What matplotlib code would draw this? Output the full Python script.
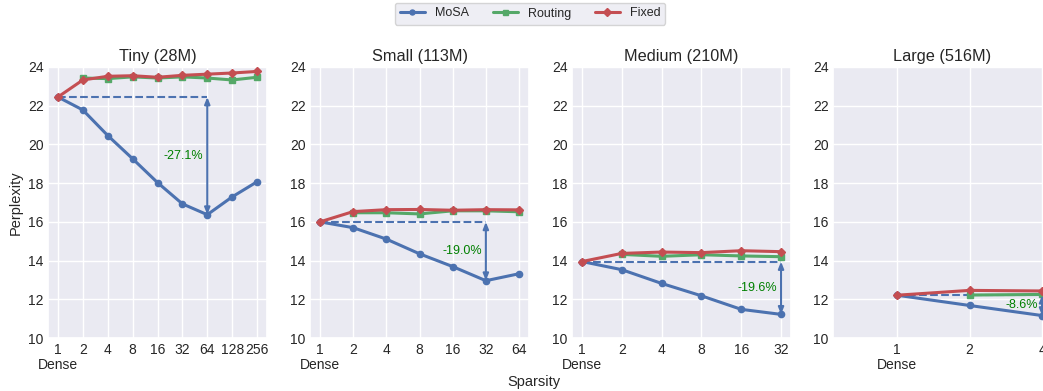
import matplotlib
matplotlib.use("Agg")
import matplotlib.pyplot as plt
import seaborn as sns
import numpy as np

sns.set_theme(style="darkgrid")
plt.rcParams['font.family'] = ['Liberation Sans', 'DejaVu Sans']

titles = ["Tiny (28M)", "Small (113M)", "Medium (210M)", "Large (516M)"]
sparsity_tiny = [1, 2, 4, 8, 16, 32, 64, 128, 256]
sparsity_small = [1, 2, 4, 8, 16, 32, 64]
sparsity_medium = [1, 2, 4, 8, 16, 32]
sparsity_large = [1, 2, 4]

mosa_tiny = [22.45, 21.78, 20.46, 19.26, 18.03, 16.93, 16.37, 17.29, 18.07]
routing_tiny = [23.43, 23.40, 23.49, 23.43, 23.49, 23.43, 23.33, 23.47]
fixed_tiny = [22.45, 23.33, 23.52, 23.55, 23.47, 23.57, 23.63, 23.69, 23.77]

mosa_small = [16.0, 15.70, 15.11, 14.35, 13.69, 12.96, 13.32]
routing_small = [16.47, 16.47, 16.41, 16.57, 16.57, 16.52]
fixed_small = [16.0, 16.53, 16.63, 16.64, 16.60, 16.63, 16.62]

mosa_medium = [13.95, 13.53, 12.82, 12.18, 11.48, 11.22]
routing_medium = [14.32, 14.22, 14.30, 14.24, 14.20]
fixed_medium = [13.95, 14.37, 14.44, 14.41, 14.51, 14.46]

mosa_large = [12.21, 11.68, 11.16]
routing_large = [12.22, 12.25]
fixed_large = [12.21, 12.46, 12.43]

reductions = ["-27.1%", "-19.0%", "-19.6%", "-8.6%"]
best_idx = [6, 5, 5, 2]

panels = [
    (sparsity_tiny, mosa_tiny, routing_tiny, fixed_tiny),
    (sparsity_small, mosa_small, routing_small, fixed_small),
    (sparsity_medium, mosa_medium, routing_medium, fixed_medium),
    (sparsity_large, mosa_large, routing_large, fixed_large),
]

blue, green, red = "#4C72B0", "#55A868", "#C44E52"

fig = plt.figure(figsize=(10.43, 3.91), dpi=100)
W, H = 1043.0, 391.0
lefts = [48, 310, 572, 833]
ax_w = 219
top_px, bot_px = 67, 338
axes = []
for i, l in enumerate(lefts):
    ax = fig.add_axes([l / W, (H - bot_px) / H, ax_w / W, (bot_px - top_px) / H])
    axes.append(ax)

for i, ax in enumerate(axes):
    sp, mosa, routing, fixed = panels[i]
    x = np.arange(len(sp))
    lm, = ax.plot(x, mosa, color=blue, marker='o', lw=2.2, ms=4.5, label="MoSA", zorder=3)
    lr, = ax.plot(x[1:len(routing) + 1], routing, color=green, marker='s', lw=2.2, ms=4.5, label="Routing", zorder=3)
    lf, = ax.plot(x, fixed, color=red, marker='D', lw=2.2, ms=4.5, label="Fixed", zorder=4)
    b = best_idx[i]
    dense = mosa[0]
    best = mosa[b]
    ax.plot([x[0], x[b]], [dense, dense], ls='--', color=blue, lw=1.5, zorder=2)
    ax.annotate("", xy=(x[b], best), xytext=(x[b], dense),
                arrowprops=dict(arrowstyle="<|-|>,head_length=0.5,head_width=0.2", color=blue, lw=1.5,
                                mutation_scale=8, shrinkA=0, shrinkB=0), zorder=5)
    ax.annotate(reductions[i], xy=(x[b], (dense + best) / 2), xytext=(-3, 0),
                textcoords="offset points", ha='right', va='center',
                color="green", fontsize=9, zorder=6)
    ax.set_ylim(10, 24)
    ax.set_yticks(np.arange(10, 25, 2))
    ax.set_xticks(x)
    ax.set_xticklabels(["1\nDense"] + [str(s) for s in sp[1:]], linespacing=1.05)
    ax.tick_params(axis='both', labelsize=10, length=0)
    ax.tick_params(axis='x', pad=3.8)
    ax.tick_params(axis='y', pad=3)
    ax.set_title(titles[i], fontsize=11.7, pad=4)
    if i == 3:
        ax.set_xlim(-0.883, -0.883 + ax_w / 72.5)

axes[0].set_ylabel("Perplexity", fontsize=10.5)
fig.text(534 / W, 1 - 382 / H, "Sparsity", ha='center', va='center', fontsize=10.5)
fig.legend(handles=[lm, lr, lf], labels=["MoSA", "Routing", "Fixed"], loc='upper center',
           bbox_to_anchor=(530 / W, 1.0), ncol=3, fontsize=9, frameon=True,
           handlelength=2.0, columnspacing=1.9, borderaxespad=0.2, markerscale=0.8)

fig.savefig("out.png", dpi=100)
